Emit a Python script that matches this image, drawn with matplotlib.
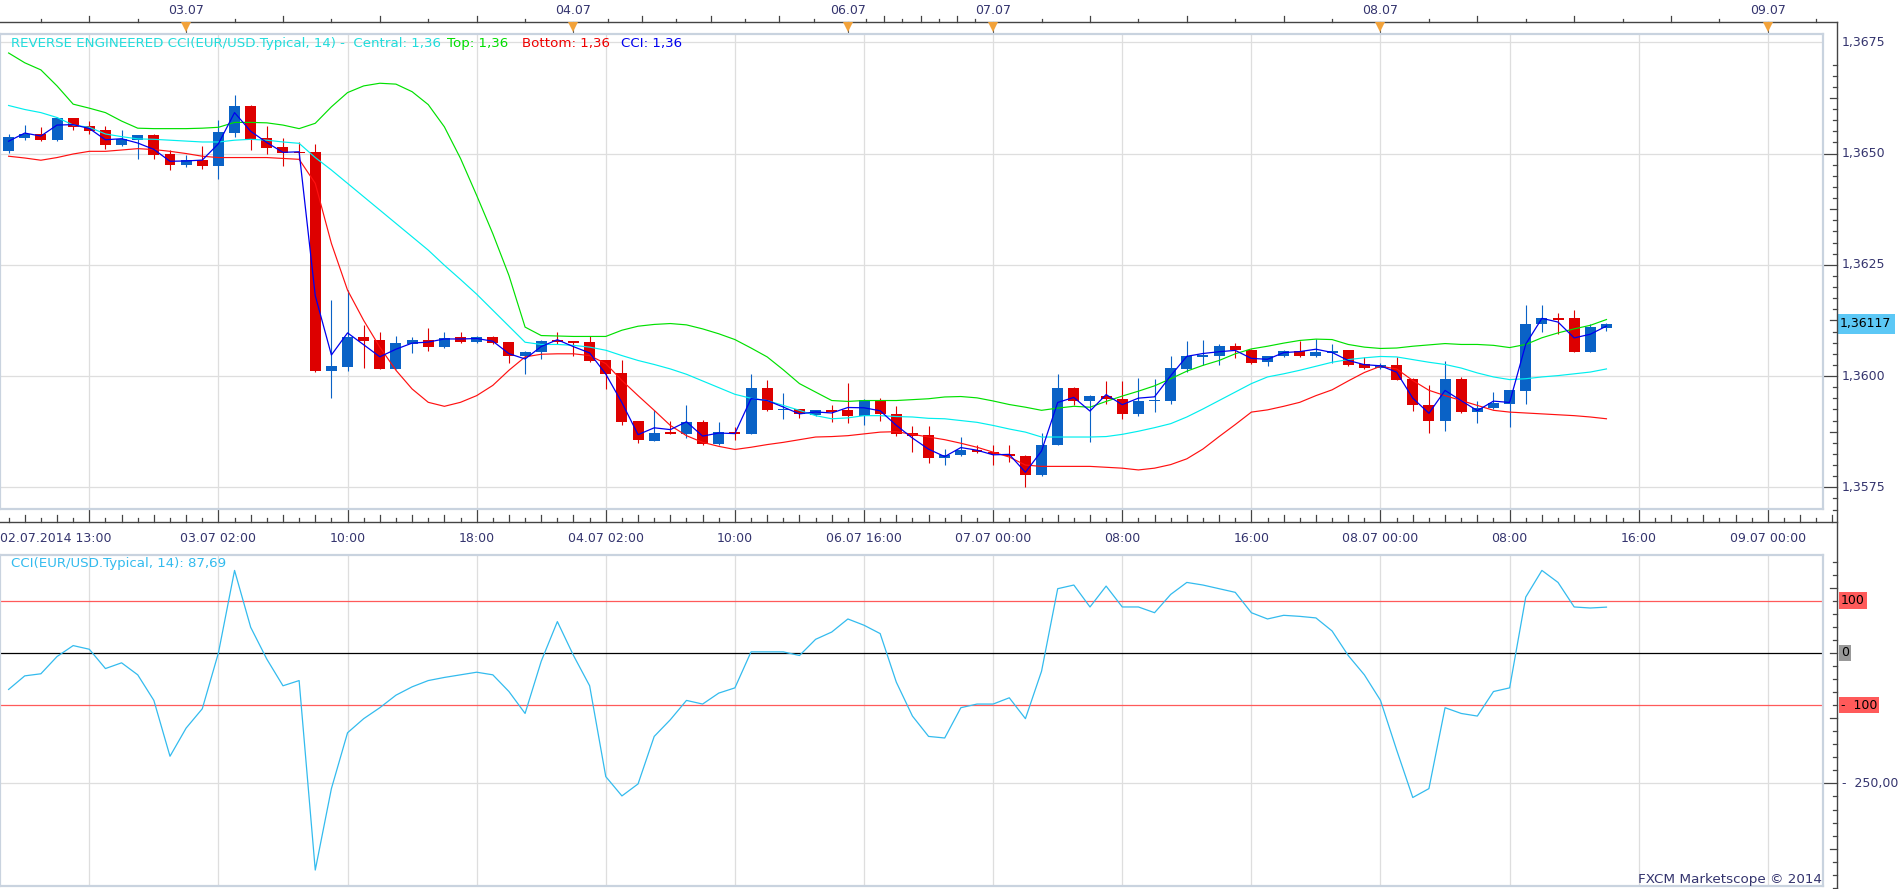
import matplotlib
matplotlib.use('Agg')
import matplotlib.pyplot as plt
import matplotlib.transforms as mtrans
import numpy as np

plt.rcParams['font.family'] = 'DejaVu Sans'
plt.rcParams['font.size'] = 9

W, H = 1903, 889

# hourly EUR/USD candles, 02.07.2014 13:00 .. 08.07.2014 ~14:00 (bar index 0..99)
opens = [1.36506, 1.36535, 1.36544, 1.36531, 1.36580, 1.36561, 1.36552, 1.36519, 1.36530, 1.36541,
         1.36499, 1.36475, 1.36485, 1.36472, 1.36547, 1.36607, 1.36534, 1.36514, 1.36502, 1.36503,
         1.36011, 1.36020, 1.36087, 1.36080, 1.36016, 1.36073, 1.36082, 1.36065, 1.36087, 1.36076,
         1.36088, 1.36076, 1.36044, 1.36054, 1.36081, 1.36078, 1.36076, 1.36035, 1.36006, 1.35898,
         1.35855, 1.35874, 1.35870, 1.35896, 1.35847, 1.35875, 1.35870, 1.35974, 1.35923, 1.35925,
         1.35913, 1.35923, 1.35923, 1.35910, 1.35945, 1.35915, 1.35872, 1.35868, 1.35815, 1.35823,
         1.35834, 1.35830, 1.35824, 1.35821, 1.35778, 1.35845, 1.35974, 1.35944, 1.35956, 1.35949,
         1.35915, 1.35944, 1.35945, 1.36015, 1.36043, 1.36045, 1.36067, 1.36059, 1.36031, 1.36045,
         1.36057, 1.36044, 1.36052, 1.36058, 1.36028, 1.36018, 1.36025, 1.35994, 1.35935, 1.35898,
         1.35994, 1.35919, 1.35928, 1.35938, 1.35966, 1.36118, 1.36131, 1.36130, 1.36055, 1.36108]
highs = [1.36544, 1.36564, 1.36559, 1.36583, 1.36581, 1.36573, 1.36562, 1.36552, 1.36542, 1.36543,
         1.36509, 1.36496, 1.36518, 1.36575, 1.36631, 1.36610, 1.36562, 1.36534, 1.36526, 1.36521,
         1.36170, 1.36193, 1.36114, 1.36099, 1.36091, 1.36088, 1.36108, 1.36100, 1.36100, 1.36090,
         1.36090, 1.36077, 1.36056, 1.36081, 1.36098, 1.36079, 1.36090, 1.36037, 1.36035, 1.35900,
         1.35924, 1.35900, 1.35936, 1.35902, 1.35896, 1.35885, 1.36005, 1.35990, 1.35962, 1.35926,
         1.35924, 1.35935, 1.35984, 1.35949, 1.35951, 1.35933, 1.35887, 1.35887, 1.35835, 1.35864,
         1.35844, 1.35846, 1.35846, 1.35823, 1.35873, 1.36004, 1.35976, 1.35957, 1.35988, 1.35988,
         1.35995, 1.35994, 1.36046, 1.36079, 1.36080, 1.36073, 1.36074, 1.36061, 1.36046, 1.36058,
         1.36078, 1.36084, 1.36073, 1.36059, 1.36043, 1.36029, 1.36043, 1.35995, 1.35979, 1.36033,
         1.35998, 1.35945, 1.35965, 1.35969, 1.36159, 1.36159, 1.36142, 1.36148, 1.36118, 1.36119]
lows = [1.36502, 1.36530, 1.36528, 1.36529, 1.36554, 1.36545, 1.36511, 1.36516, 1.36488, 1.36488,
        1.36464, 1.36469, 1.36466, 1.36443, 1.36538, 1.36508, 1.36499, 1.36472, 1.36485, 1.36010,
        1.35950, 1.36011, 1.36018, 1.36015, 1.36015, 1.36052, 1.36056, 1.36064, 1.36074, 1.36075,
        1.36071, 1.36029, 1.36004, 1.36039, 1.36071, 1.36045, 1.36032, 1.35971, 1.35890, 1.35849,
        1.35854, 1.35869, 1.35860, 1.35846, 1.35845, 1.35857, 1.35869, 1.35922, 1.35903, 1.35905,
        1.35911, 1.35896, 1.35894, 1.35890, 1.35900, 1.35865, 1.35829, 1.35805, 1.35799, 1.35821,
        1.35827, 1.35799, 1.35806, 1.35750, 1.35776, 1.35844, 1.35936, 1.35851, 1.35938, 1.35904,
        1.35911, 1.35919, 1.35938, 1.36009, 1.36024, 1.36024, 1.36041, 1.36028, 1.36022, 1.36043,
        1.36043, 1.36042, 1.36030, 1.36022, 1.36016, 1.36016, 1.35991, 1.35922, 1.35872, 1.35876,
        1.35917, 1.35894, 1.35926, 1.35885, 1.35938, 1.36099, 1.36095, 1.36054, 1.36054, 1.36101]
closes = [1.36537, 1.36544, 1.36531, 1.36580, 1.36560, 1.36551, 1.36520, 1.36532, 1.36541, 1.36497,
          1.36475, 1.36485, 1.36472, 1.36548, 1.36607, 1.36532, 1.36513, 1.36502, 1.36501, 1.36011,
          1.36022, 1.36087, 1.36079, 1.36016, 1.36075, 1.36082, 1.36065, 1.36086, 1.36076, 1.36088,
          1.36074, 1.36045, 1.36055, 1.36079, 1.36076, 1.36074, 1.36034, 1.36005, 1.35896, 1.35856,
          1.35873, 1.35870, 1.35896, 1.35847, 1.35875, 1.35870, 1.35974, 1.35923, 1.35926, 1.35914,
          1.35923, 1.35920, 1.35910, 1.35947, 1.35915, 1.35870, 1.35866, 1.35815, 1.35823, 1.35833,
          1.35829, 1.35824, 1.35820, 1.35778, 1.35846, 1.35974, 1.35944, 1.35956, 1.35949, 1.35915,
          1.35945, 1.35947, 1.36018, 1.36045, 1.36048, 1.36067, 1.36058, 1.36030, 1.36045, 1.36057,
          1.36044, 1.36055, 1.36056, 1.36024, 1.36018, 1.36024, 1.35992, 1.35934, 1.35898, 1.35994,
          1.35919, 1.35928, 1.35940, 1.35968, 1.36118, 1.36131, 1.36127, 1.36055, 1.36110, 1.36117]

top_band = [1.36726, 1.36704, 1.36688, 1.36652, 1.36611, 1.36602, 1.36592, 1.36573, 1.36557, 1.36556,
            1.36556, 1.36556, 1.36557, 1.36559, 1.36570, 1.36570, 1.36569, 1.36564, 1.36556, 1.36568,
            1.36605, 1.36637, 1.36652, 1.36658, 1.36656, 1.36639, 1.36610, 1.36560, 1.36489, 1.36406,
            1.36320, 1.36226, 1.36110, 1.36091, 1.36090, 1.36089, 1.36089, 1.36089, 1.36103, 1.36112,
            1.36116, 1.36118, 1.36115, 1.36106, 1.36095, 1.36082, 1.36063, 1.36043, 1.36014, 1.35983,
            1.35964, 1.35945, 1.35943, 1.35945, 1.35945, 1.35945, 1.35947, 1.35949, 1.35953, 1.35954,
            1.35951, 1.35944, 1.35936, 1.35930, 1.35923, 1.35928, 1.35932, 1.35930, 1.35943, 1.35955,
            1.35966, 1.35978, 1.35994, 1.36011, 1.36024, 1.36035, 1.36050, 1.36061, 1.36067, 1.36074,
            1.36080, 1.36083, 1.36082, 1.36071, 1.36065, 1.36062, 1.36063, 1.36067, 1.36070, 1.36073,
            1.36071, 1.36071, 1.36069, 1.36064, 1.36071, 1.36086, 1.36097, 1.36106, 1.36114, 1.36127]
central = [1.36608, 1.36599, 1.36592, 1.36581, 1.36564, 1.36559, 1.36544, 1.36538, 1.36533, 1.36532,
           1.36530, 1.36528, 1.36526, 1.36526, 1.36530, 1.36532, 1.36530, 1.36526, 1.36523, 1.36491,
           1.36463, 1.36433, 1.36403, 1.36373, 1.36343, 1.36313, 1.36283, 1.36249, 1.36217, 1.36184,
           1.36148, 1.36112, 1.36076, 1.36071, 1.36071, 1.36069, 1.36065, 1.36058, 1.36046, 1.36035,
           1.36026, 1.36016, 1.36004, 1.35989, 1.35974, 1.35959, 1.35950, 1.35945, 1.35934, 1.35923,
           1.35911, 1.35904, 1.35906, 1.35911, 1.35911, 1.35909, 1.35908, 1.35905, 1.35904, 1.35900,
           1.35896, 1.35889, 1.35881, 1.35874, 1.35863, 1.35863, 1.35863, 1.35863, 1.35864, 1.35869,
           1.35876, 1.35884, 1.35893, 1.35908, 1.35926, 1.35945, 1.35964, 1.35983, 1.35998, 1.36005,
           1.36013, 1.36022, 1.36031, 1.36037, 1.36041, 1.36044, 1.36043, 1.36037, 1.36031, 1.36026,
           1.36018, 1.36007, 1.35998, 1.35992, 1.35994, 1.35998, 1.36001, 1.36005, 1.36009, 1.36016]
bottom_band = [1.36494, 1.36490, 1.36485, 1.36491, 1.36499, 1.36505, 1.36505, 1.36508, 1.36511, 1.36509,
               1.36505, 1.36500, 1.36494, 1.36491, 1.36491, 1.36491, 1.36491, 1.36489, 1.36487, 1.36433,
               1.36298, 1.36193, 1.36125, 1.36065, 1.36013, 1.35971, 1.35941, 1.35932, 1.35941, 1.35956,
               1.35979, 1.36013, 1.36043, 1.36049, 1.36050, 1.36050, 1.36046, 1.36028, 1.35990, 1.35956,
               1.35923, 1.35889, 1.35866, 1.35851, 1.35842, 1.35835, 1.35840, 1.35846, 1.35851, 1.35857,
               1.35863, 1.35864, 1.35866, 1.35870, 1.35874, 1.35875, 1.35869, 1.35863, 1.35857, 1.35849,
               1.35840, 1.35829, 1.35818, 1.35800, 1.35797, 1.35797, 1.35797, 1.35797, 1.35795, 1.35793,
               1.35789, 1.35793, 1.35801, 1.35814, 1.35836, 1.35864, 1.35891, 1.35919, 1.35924, 1.35932,
               1.35941, 1.35956, 1.35969, 1.35989, 1.36008, 1.36022, 1.36016, 1.35990, 1.35968, 1.35956,
               1.35945, 1.35934, 1.35923, 1.35919, 1.35917, 1.35915, 1.35913, 1.35911, 1.35908, 1.35904]

cci = [-70, -44, -40, -7, 14, 7, -30, -19, -42, -91,
       -198, -144, -107, 0, 158, 49, -12, -63, -53, -416,
       -260, -153, -126, -105, -81, -65, -53, -47, -42, -37,
       -42, -74, -116, -16, 60, -5, -63, -237, -274, -251,
       -160, -128, -91, -98, -77, -67, 2, 2, 2, -5,
       26, 40, 65, 53, 37, -56, -121, -160, -163, -105,
       -98, -98, -86, -126, -35, 123, 130, 88, 128, 88,
       88, 77, 112, 135, 130, 123, 116, 77, 65, 72,
       70, 67, 42, -5, -42, -91, -186, -277, -260, -105,
       -116, -121, -74, -67, 107, 158, 135, 88, 86, 87.69]

# time scale: gridlines every 8 bars, day markers on the top strip
grid_idx = [5, 13, 21, 29, 37, 45, 53, 61, 69, 77, 85, 93, 101, 109]
grid_labels = ['', '03.07 02:00', '10:00', '18:00', '04.07 02:00', '10:00', '06.07 16:00',
               '07.07 00:00', '08:00', '16:00', '08.07 00:00', '08:00', '16:00', '09.07 00:00']
first_label = '02.07.2014 13:00'
day_idx = [11, 35, 52, 61, 85, 109]
day_labels = ['03.07', '04.07', '06.07', '07.07', '08.07', '09.07']

price_ticks = [1.3575, 1.3600, 1.3625, 1.3650, 1.3675]
price_labels = ['1,3575', '1,3600', '1,3625', '1,3650', '1,3675']
last_price = 1.36117

NAVY = '#34346e'
GRID = '#dedede'
BORDER = '#c9d3df'
UP = '#0a62c6'
DOWN = '#dd0000'
FS = 9
FS_LEG = 9.6

# pixel layout
X0, DX = 8.6, 16.14          # px of bar 0, px per bar
PANEL_R = 1823
SCALE_X = 1837
MAIN_T, MAIN_B = 34, 509
CCI_T, CCI_B = 555, 886
TOP_LINE, BOT_LINE = 22, 522


def box(l, t, r, b):
    return [l / W, 1 - b / H, (r - l) / W, (b - t) / H]


def fy(py):
    return 1 - py / H


fig = plt.figure(figsize=(W / 100, H / 100), dpi=100)
fig.patch.set_facecolor('white')

xlim = ((0 - X0) / DX, (PANEL_R - X0) / DX)
idx = np.arange(len(closes))

# ---------------- main price panel ----------------
ax = fig.add_axes(box(0, MAIN_T, PANEL_R, MAIN_B))
ax.set_xlim(*xlim)
ax.set_ylim(1.3575 - (MAIN_B - 487.3) / 44500, 1.3675 + (42.3 - MAIN_T) / 44500)
ax.set_xticks([])
ax.set_yticks([])
for s in ax.spines.values():
    s.set_color(BORDER)
    s.set_linewidth(1.6)
for g in grid_idx:
    ax.axvline(g, color=GRID, lw=0.9, zorder=0)
for p in price_ticks:
    ax.axhline(p, color=GRID, lw=0.9, zorder=0)

o = np.array(opens); h = np.array(highs); l = np.array(lows); c = np.array(closes)
cols = [UP if cc >= oo else DOWN for oo, cc in zip(o, c)]
body_lo = np.minimum(o, c)
body_h = np.maximum(np.abs(c - o), 0.00003)
ax.vlines(idx, l, h, colors=cols, lw=0.8, zorder=2)
ax.bar(idx, body_h, bottom=body_lo, width=0.68, color=cols, linewidth=0, zorder=3)

ax.plot(idx, bottom_band, color='#ff1010', lw=0.85, zorder=4)
ax.plot(idx, central, color='#00eeee', lw=0.85, zorder=4)
ax.plot(idx, top_band, color='#00e000', lw=0.85, zorder=4)
typical = (h + l + c) / 3
ax.plot(idx, typical, color='#0000ee', lw=0.9, zorder=5)

# legend line
leg_y = fy(43)
for x, txt, col in [(10.7, 'REVERSE ENGINEERED CCI(EUR/USD.Typical, 14) -  Central: 1,36', '#22dcdc'),
                    (447, 'Top: 1,36', '#00dd00'),
                    (522, 'Bottom: 1,36', '#ee0000'),
                    (621, 'CCI: 1,36', '#0000ee')]:
    fig.text(x / W, leg_y, txt, color=col, fontsize=FS_LEG, va='center', ha='left')

# price scale
trp = mtrans.blended_transform_factory(fig.transFigure, ax.transData)
for k in range(41):
    p = 1.3570 + 0.00025 * k
    if p > ax.get_ylim()[1]:
        break
    if k % 10 == 2:
        ln = 14
    elif k % 5 == 2:
        ln = 7
    else:
        ln = 4
    ax.plot([(SCALE_X - ln) / W, SCALE_X / W], [p, p], color='#444444', lw=0.9,
            transform=trp, clip_on=False)
for p, lab in zip(price_ticks, price_labels):
    ax.text(1842 / W, p, lab, transform=trp, color=NAVY, fontsize=FS, va='center', ha='left')
ax.text(1840 / W, last_price, '1,36117', transform=trp, color='black', fontsize=FS,
        va='center', ha='left',
        bbox=dict(boxstyle='square,pad=0.25', facecolor='#5cc8f6', edgecolor='none'))

# ---------------- CCI panel ----------------
axc = fig.add_axes(box(0, CCI_T, PANEL_R, CCI_B))
axc.set_xlim(*xlim)
axc.set_ylim(-(CCI_B - 652.9) / 0.522, (652.9 - CCI_T) / 0.522)
axc.set_xticks([])
axc.set_yticks([])
for s in axc.spines.values():
    s.set_color(BORDER)
    s.set_linewidth(1.6)
for g in grid_idx:
    axc.axvline(g, color=GRID, lw=0.9, zorder=0)
axc.axhline(-250, color=GRID, lw=0.9, zorder=0)
axc.axhline(100, color='#ff5a5a', lw=0.9, zorder=1)
axc.axhline(-100, color='#ff5a5a', lw=0.9, zorder=1)
axc.axhline(0, color='black', lw=0.9, zorder=1)
axc.plot(idx, cci, color='#33bbee', lw=0.9, zorder=3)
axc.text(10.7 / W, fy(563), 'CCI(EUR/USD.Typical, 14): 87,69', transform=fig.transFigure,
         color='#33bbee', fontsize=FS_LEG, va='center', ha='left')
fig.text(PANEL_R / W - 1 / W, fy(880), 'FXCM Marketscope \u00a9 2014', color=NAVY,
         fontsize=9.7, va='center', ha='right')

trc = mtrans.blended_transform_factory(fig.transFigure, axc.transData)
for v in range(175, -451, -25):
    if v == -250:
        ln = 14
    elif v % 125 == 0:
        ln = 7
    else:
        ln = 4
    axc.plot([(SCALE_X - ln) / W, SCALE_X / W], [v, v], color='#444444', lw=0.9,
             transform=trc, clip_on=False)
axc.text(1841 / W, 100, '100', transform=trc, color='black', fontsize=FS, va='center',
         bbox=dict(boxstyle='square,pad=0.15', facecolor='#ff5a5a', edgecolor='none'))
axc.text(1841 / W, 0, '0', transform=trc, color='black', fontsize=FS, va='center',
         bbox=dict(boxstyle='square,pad=0.15', facecolor='#999999', edgecolor='none'))
axc.text(1841 / W, -100, '-  100', transform=trc, color='black', fontsize=FS, va='center',
         bbox=dict(boxstyle='square,pad=0.15', facecolor='#ff5a5a', edgecolor='none'))
axc.text(1842 / W, -250, '-  250,00', transform=trc, color=NAVY, fontsize=FS, va='center')

# ---------------- time strips ----------------
trx = mtrans.blended_transform_factory(ax.transData, fig.transFigure)
x_end = (SCALE_X - X0) / DX
# right scale line, top and bottom axis lines
fig.add_artist(plt.Line2D([SCALE_X / W] * 2, [fy(TOP_LINE), 0], color='#444444', lw=1.0))
ax.plot([xlim[0], x_end], [fy(TOP_LINE)] * 2, color='#444444', lw=1.0, transform=trx, clip_on=False)
ax.plot([xlim[0], x_end], [fy(BOT_LINE)] * 2, color='#444444', lw=1.0, transform=trx, clip_on=False)

# top strip: each day split in 8 parts
bounds = [day_idx[0] - 24] + day_idx + [day_idx[-1] + 24]
for a, b in zip(bounds[:-1], bounds[1:]):
    for k in range(1, 8):
        xi = a + (b - a) * k / 8
        if xi < xlim[0] or xi > x_end:
            continue
        ln = 6 if k % 2 == 0 else 3.5
        ax.plot([xi, xi], [fy(TOP_LINE), fy(TOP_LINE - ln)], color='#444444', lw=0.9,
                transform=trx, clip_on=False)
for d, lab in zip(day_idx, day_labels):
    ax.plot([d, d], [fy(TOP_LINE), fy(33)], color='#555555', lw=0.8, transform=trx, clip_on=False)
    ax.plot([d], [fy(TOP_LINE + 4.5)], marker='v', markersize=6.5, color='#f2a23a',
            markeredgewidth=0, transform=trx, clip_on=False)
    ax.text(d, fy(10.5), lab, transform=trx, color=NAVY, fontsize=FS, ha='center', va='center')

# bottom strip: every bar
for i in range(0, int(x_end) + 1):
    off = (i - grid_idx[0]) % 8
    if off == 0:
        ln = 12
    elif off % 2 == 0:
        ln = 7
    else:
        ln = 4
    ax.plot([i, i], [fy(BOT_LINE), fy(BOT_LINE - ln)], color='#444444', lw=0.9,
            transform=trx, clip_on=False)
for g, lab in zip(grid_idx, grid_labels):
    if lab:
        ax.text(g, fy(539), lab, transform=trx, color=NAVY, fontsize=FS, ha='center', va='center')
fig.text(0.5 / W, fy(539), first_label, color=NAVY, fontsize=FS, ha='left', va='center')

fig.savefig('out.png', dpi=100, facecolor='white')
